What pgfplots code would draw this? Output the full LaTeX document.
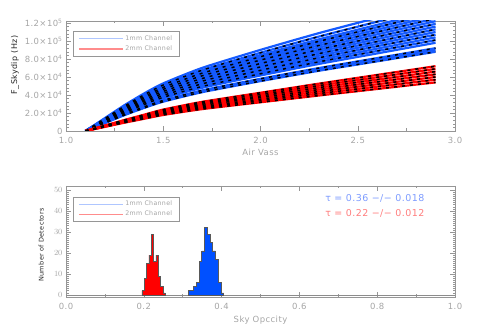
\documentclass[border=0pt]{standalone}
\usepackage{fontspec}
\setmainfont{DejaVu Sans}[LetterSpace=5]
\usepackage{pgfplots}
\usepackage{pgfplotstable}
\pgfplotsset{compat=1.18}

\definecolor{blueLine}{RGB}{20,90,255}
\definecolor{redLine}{RGB}{255,0,0}
\definecolor{histBlue}{RGB}{0,80,255}
\definecolor{histRed}{RGB}{255,0,0}
\definecolor{legBlue}{RGB}{175,198,255}
\definecolor{legRed}{RGB}{255,140,140}
\definecolor{tauBlue}{RGB}{125,155,255}
\definecolor{tauRed}{RGB}{255,125,125}
\definecolor{axisGray}{RGB}{150,150,150}
\definecolor{textGray}{RGB}{165,165,165}

% skydip signal, units of 1e4 Hz; b = 1mm detectors, r = 2mm detectors
\pgfplotstableread{
x   b1   b2   b3   b4   b5   b6   b7   b8   b9   b10   b11   b12   b13   b14   b15   b16   b17   b18   r1   r2   r3   r4   r5   r6   r7
1.1 0    0    0    0    0    0    0    0    0    0     0     0     0     0     0     0     0     0     0    0    0    0    0    0    0
1.2 0.88 0.90 0.92 0.98 1.01 1.04 1.07 1.10 1.13 1.16  1.19  1.22  1.25  1.28  1.31  1.34  1.38  1.43  0.46 0.48 0.51 0.54 0.56 0.59 0.61
1.3 1.76 1.80 1.84 1.96 2.02 2.08 2.14 2.20 2.26 2.32  2.38  2.44  2.50  2.56  2.62  2.68  2.76  2.86  0.92 0.97 1.02 1.07 1.12 1.17 1.22
1.4 2.55 2.61 2.67 2.84 2.93 3.02 3.10 3.19 3.28 3.36  3.45  3.54  3.63  3.71  3.80  3.89  4.00  4.15  1.35 1.43 1.50 1.58 1.65 1.73 1.80
1.5 3.26 3.33 3.40 3.63 3.74 3.85 3.96 4.07 4.18 4.29  4.40  4.51  4.63  4.74  4.85  4.96  5.11  5.29  1.78 1.88 1.98 2.08 2.18 2.28 2.38
1.7 4.31 4.41 4.51 4.80 4.95 5.10 5.24 5.39 5.54 5.68  5.83  5.98  6.13  6.27  6.42  6.57  6.76  7.01  2.43 2.57 2.70 2.84 2.97 3.11 3.24
2.0 5.54 5.67 5.80 6.17 6.36 6.55 6.74 6.93 7.12 7.31  7.50  7.69  7.88  8.06  8.25  8.44  8.69  9.01  3.19 3.36 3.54 3.72 3.89 4.07 4.25
2.3 6.69 6.84 6.99 7.45 7.68 7.90 8.13 8.36 8.59 8.82  9.04  9.27  9.50  9.73  9.96  10.18 10.49 10.87 3.94 4.16 4.38 4.60 4.82 5.04 5.26
2.6 7.74 7.92 8.10 8.62 8.89 9.15 9.42 9.68 9.94 10.21 10.47 10.74 11.00 11.26 11.53 11.79 12.14 12.58 4.67 4.93 5.19 5.45 5.71 5.97 6.23
2.9 8.80 9.00 9.20 9.80 10.1 10.4 10.7 11.0 11.3 11.6  11.9  12.2  12.5  12.8  13.1  13.4  13.8  14.3  5.40 5.70 6.00 6.30 6.60 6.90 7.20
}\skydip

\pgfplotsset{
  idl/.style={
    scale only axis, width=389bp,
    axis line style={axisGray, line width=0.6bp},
    tick style={axisGray, line width=0.5bp},
    major tick length=5bp, minor tick length=2.5bp,
    tick label style={font=\fontsize{8.5}{10}\selectfont, text=textGray},
    xlabel style={font=\fontsize{8.5}{10}\selectfont, text=textGray},
    legend style={at={(0.018,0.905)}, anchor=north west, draw=axisGray,
      fill=white, font=\fontsize{6.3}{7.5}\selectfont, text=textGray,
      inner xsep=5bp, inner ysep=2bp, row sep=0bp},
    legend cell align=left,
    legend image code/.code={\draw[##1] (6bp,0bp) -- (50bp,0bp);},
  },
  stripe/.style={black, line width=1.5bp, dash pattern=on 3bp off 5bp,
    smooth, tension=0.4, forget plot},
}

\begin{document}
\begin{tikzpicture}
\path[use as bounding box] (0,0) rectangle (491bp,328bp);

% ---- skydip signal vs air mass
\begin{axis}[idl,
  at={(66bp,197bp)}, anchor=south west, height=110bp,
  xmin=1, xmax=3, ymin=0, ymax=12.22,
  xtick={1,1.5,2,2.5,3}, xticklabels={1.0,1.5,2.0,2.5,3.0},
  minor x tick num=1,
  ytick={0,2,4,6,8,10,12},
  yticklabels={0, 2.0×10\textsuperscript{4}, 4.0×10\textsuperscript{4},
    6.0×10\textsuperscript{4}, 8.0×10\textsuperscript{4},
    1.0×10\textsuperscript{5}, 1.2×10\textsuperscript{5}},
  minor y tick num=4,
  xticklabel style={yshift=-3bp},
  xlabel={Air Vass},
  xlabel style={at={(axis description cs:0.5,-0.19)}, anchor=center},
  ylabel={F\_Skydip (Hz)},
  ylabel style={at={(axis description cs:-0.131,0.6)}, anchor=center,
    font=\fontsize{8}{10}\selectfont, text=black!85},
]
\pgfplotsinvokeforeach{1,...,18}{
  \addplot[blueLine, line width=2.2bp, smooth, tension=0.4, forget plot] table[x=x, y=b#1] {\skydip};
}
\pgfplotsinvokeforeach{1,3,5,7,9,11,13,15,17}{
  \addplot[stripe] table[x=x, y=b#1] {\skydip};
}
\pgfplotsinvokeforeach{1,...,7}{
  \addplot[redLine, line width=2.2bp, smooth, tension=0.4, forget plot] table[x=x, y=r#1] {\skydip};
}
\pgfplotsinvokeforeach{1,2,3,4,5,6,7}{
  \addplot[stripe] table[x=x, y=r#1] {\skydip};
}
\addlegendimage{legBlue, line width=0.6bp}
\addlegendentry{1mm Channel}
\addlegendimage{legRed, line width=1.2bp}
\addlegendentry{2mm Channel}
\end{axis}

% ---- opacity histograms
\begin{axis}[idl,
  at={(66bp,31bp)}, anchor=south west, height=111bp,
  xmin=0, xmax=1, ymin=-1, ymax=51.9,
  xtick={0,0.2,0.4,0.6,0.8,1}, xticklabels={0.0,0.2,0.4,0.6,0.8,1.0},
  minor x tick num=1,
  ytick={0,10,20,30,40,50}, minor y tick num=9,
  xticklabel style={yshift=-3bp},
  xlabel={Sky Opccity},
  xlabel style={at={(axis description cs:0.5,-0.207)}, anchor=center},
  ylabel={Number of Detectors},
  ylabel style={at={(axis description cs:-0.064,0.468)}, anchor=center,
    font=\fontsize{6.5}{8}\selectfont, text=black!85},
]
\addplot[black!45, line width=0.5bp, forget plot] coordinates {(0,0) (1,0)};
\addplot[const plot, fill=histRed, draw=black!65, line width=0.6bp, forget plot]
  coordinates {(0.195,2) (0.201,8) (0.207,15) (0.213,19) (0.219,29) (0.225,16)
               (0.231,19) (0.237,9) (0.243,4) (0.249,1) (0.255,1)} \closedcycle;
\addplot[const plot, fill=histBlue, draw=black!65, line width=0.6bp, forget plot]
  coordinates {(0.314,2) (0.321,2) (0.328,4) (0.335,6) (0.342,16) (0.349,21)
               (0.356,32) (0.363,29) (0.370,25) (0.377,21) (0.384,17) (0.391,6)
               (0.398,1) (0.405,1)} \closedcycle;
\addlegendimage{legBlue, line width=0.6bp}
\addlegendentry{1mm Channel}
\addlegendimage{legRed, line width=1.2bp}
\addlegendentry{2mm Channel}
\node[anchor=west, text=tauBlue, font=\fontsize{9.5}{11}\selectfont, inner sep=0pt]
  at (axis cs:0.666,46.2) {τ = 0.36 −/− 0.018};
\node[anchor=west, text=tauRed, font=\fontsize{9.5}{11}\selectfont, inner sep=0pt]
  at (axis cs:0.666,38.6) {τ = 0.22 −/− 0.012};
\end{axis}
\end{tikzpicture}
\end{document}
